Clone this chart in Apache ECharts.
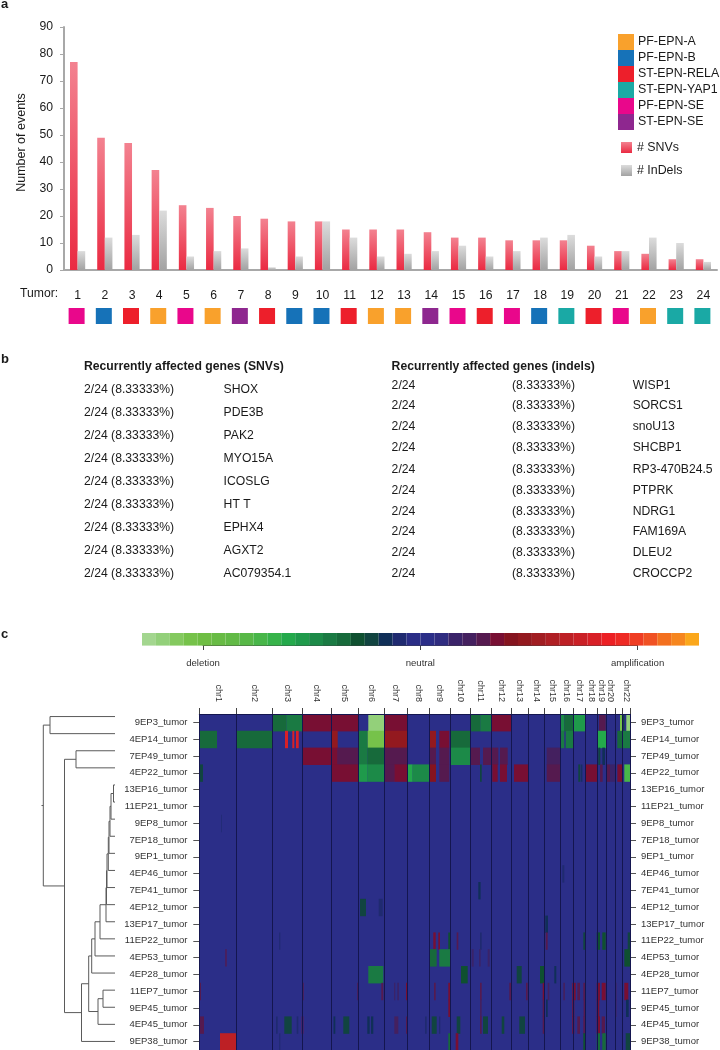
<!DOCTYPE html>
<html>
<head>
<meta charset="utf-8">
<title>Ependymoma mutations and copy number</title>
<script src="https://cdn.jsdelivr.net/npm/echarts@6/dist/echarts.min.js"></script>
<style>
  html, body { margin: 0; padding: 0; background: #fff; }
  #main { width: 720px; height: 1050px; }
</style>
</head>
<body>
<div id="main"></div>
<script>
// panel a
const tumors = ["1","2","3","4","5","6","7","8","9","10","11","12","13","14","15","16","17","18","19","20","21","22","23","24"];
const snvCounts = [77,49,47,37,24,23,20,19,18,18,15,15,15,14,12,12,11,11,11,9,7,6,4,4];
const indelCounts = [7,12,13,22,5,7,8,1,5,18,12,5,6,7,9,5,7,12,13,5,7,12,10,3];
const subtypes = ["PF-EPN-A","PF-EPN-B","ST-EPN-RELA","ST-EPN-YAP1","PF-EPN-SE","ST-EPN-SE"];
const subtypeColors = ["#f9a12c","#1672b8","#ed1f2b","#1aa9a5","#e9078b","#8e278f"];
// index into subtypes, one per tumor
const tumorSubtype = [4,1,2,0,4,0,5,2,1,1,2,0,0,5,4,2,4,1,3,2,4,0,3,3];

// panel b
const snvGenes = ["SHOX","PDE3B","PAK2","MYO15A","ICOSLG","HT T","EPHX4","AGXT2","AC079354.1"];
const indelGenes = ["WISP1","SORCS1","snoU13","SHCBP1","RP3-470B24.5","PTPRK","NDRG1","FAM169A","DLEU2","CROCCP2"];

// panel c
const colorbarColors = [
  "#a3d68f","#93d07a","#84c95f","#76c24a","#6fbe44","#68bb45","#62ba46","#58b847","#48b649","#37b34a",
  "#24a94b","#1f9a4b","#1c8a48","#1a7a43","#176a3b","#0f5030","#114440","#102f58","#1f2a70","#2a2d86",
  "#2b2e88","#2f2c80","#3a2369","#44205f","#551a4f","#780f33","#85141f","#93191f","#a11d22","#af1f24",
  "#bd2025","#ca2026","#d82027","#ec2024","#ee2a24","#ef3d23","#f05123","#f3701f","#f6861f","#fba71b"
];
const neutralLevel = 20;
const scaleLabels = ["deletion","neutral","amplification"];
const samples = ["9EP3_tumor","4EP14_tumor","7EP49_tumor","4EP22_tumor","13EP16_tumor","11EP21_tumor","9EP8_tumor","7EP18_tumor","9EP1_tumor","4EP46_tumor","7EP41_tumor","4EP12_tumor","13EP17_tumor","11EP22_tumor","4EP53_tumor","4EP28_tumor","11EP7_tumor","9EP45_tumor","4EP45_tumor","9EP38_tumor"];
const chromosomes = ["chr1","chr2","chr3","chr4","chr5","chr6","chr7","chr8","chr9","chr10","chr11","chr12","chr13","chr14","chr15","chr16","chr17","chr18","chr19","chr20","chr21","chr22"];
const chrBounds = [0,37.4,73.4,103.4,131.7,159,184.7,208.4,230,251,271.4,291.7,311.7,329,345,360.7,374,386,397.7,406.7,415.7,423,430.7];
const chrCenters = [18.7,55.4,88.4,117.5,145.3,171.8,196.5,219.2,240.5,261.2,281.5,301.7,320.3,337,352.8,367.3,380,391.8,402.2,411.2,419.3,426.8];

// [start, end, level] along the genome, level indexes colorbarColors, one list per sample
// anything not listed is neutral
const cnvSegments = [
  [[73.4,87,14],[87,103.4,13],[103.4,131.7,25],[131.7,159,25],[169,184.7,1],[184.7,208.4,25],[271.4,281,14],[281,291.7,13],[291.7,311.7,25],[360.7,365,12],[365,374,14],[374,386,11],[399.7,406.4,24],[420.7,423,3],[423,425,16],[427,430.7,1]],
  [[0,17.7,14],[37.4,73.4,14],[85.7,88.7,32],[93,95,32],[96.7,99.4,32],[131.7,138.4,27],[159,168.4,13],[168.4,184.7,3],[184.7,208.4,27],[230,236.7,27],[240,250,25],[251,271.4,14],[360.7,365,13],[366.4,374,13],[397.7,406.7,10],[418,423,14],[423,430.7,13]],
  [[103.4,131.7,25],[131.7,138.4,25],[138.4,159,24],[159,168.4,13],[168.4,184.7,14],[184.7,208.4,24],[230,236.7,24],[240,250,24],[251,271.4,12],[271.4,280.7,24],[283.7,291.7,24],[291.7,299,24],[300.7,308.4,24],[347.4,360.7,23],[399,401,16],[403,405.7,17]],
  [[0,3.7,16],[131.7,159,25],[159,168.4,11],[168.4,184.7,12],[184.7,195,24],[195,208.4,25],[208.4,213.4,10],[213.4,230,12],[230,236.7,26],[240,250,24],[280.7,282.4,16],[293,298.4,25],[300.7,307.7,25],[314.7,329,25],[347.4,360.7,24],[379,381,16],[382,383,17],[386.7,397.7,25],[400.7,403.4,24],[406.7,410.7,24],[410.7,415.7,22],[418,423,25],[425,430.7,8]],
  [],
  [],
  [[21.7,22.4,18]],
  [],
  [],
  [[363,365,18]],
  [[279,281.3,17]],
  [[160.7,166.7,16],[179.4,183.4,18]],
  [[346,348.7,17]],
  [[80,81,18],[234,236.4,25],[239,240.7,25],[249,250.7,15],[257.4,259,24],[280.7,282.4,18],[346.4,348.4,24],[384,386,16],[397.4,400.7,15],[403,406.4,15],[428.4,430.7,16]],
  [[26,27.4,24],[230.7,237.4,14],[240,250.7,13],[272.4,274.4,22],[279.7,281.4,22],[288.4,290.4,22],[425,430.7,15]],
  [[169,184,13],[261.7,268.4,15],[317.4,322.4,16],[340.7,345,15],[355,357,17]],
  [[0,1.7,24],[103,104.4,24],[158,159,24],[182,184,24],[194.7,196,22],[198,199.7,22],[206.7,208,25],[234.7,236.4,24],[249,251,25],[280.7,282.4,24],[310,311.7,24],[326.7,328.4,24],[343.4,345,25],[348.4,350,23],[364,365.7,23],[373,376.4,25],[378,380.7,24],[384,386,24],[397.4,400.7,25],[402.4,406.4,25],[415.7,417,24],[425,429,25]],
  [[249,251,25],[280.7,282.4,23],[343.4,345,24],[346.7,348.4,17],[373,375,25],[384.3,386,24],[397.4,400,25],[415.7,417,24],[426.7,429.4,17]],
  [[0,4.7,24],[76.7,78.4,18],[85,92.4,16],[97.4,99,18],[102.4,104,25],[134.2,136,17],[144,150,16],[168,170.4,17],[171.7,174,17],[195,199,23],[206.7,208,24],[225.7,227.4,18],[232.4,237.4,16],[239.7,241,18],[257.4,261,16],[280.7,282.4,24],[283.7,288.7,16],[302.4,305,16],[320,325.7,16],[343.4,345,24],[373,375,25],[378,380.7,24],[384,386,24],[397.4,400.7,25],[402.4,405.7,24]],
  [[20.7,37,30],[80,81,18],[249,250.7,14],[256.4,259,25],[384,386,15],[397.4,400.7,14],[403,406.4,14],[426.4,430.7,16]]
];

// hclust style merges: [childA, childB, height], negative = sample number, positive = earlier merge number
const dendroMerges = [
  [-5,-6,1.5],[1,-7,4],[2,-8,5],[3,-9,6],[4,-10,6.7],[5,-11,8],[6,-12,8.5],[7,-13,9],[8,-14,15],[9,-15,20],[10,-16,23.3],
  [-17,-18,12],[12,-19,17],[11,13,26.3],[14,-20,33.5],[-3,-4,39],[16,15,50.5],[-1,-2,65],[18,17,71.7]
];
const dendroMaxHeight = 115;
const rootStemHeight = 73.5;

// walk the merges, each node sits at the middle of its two children
const dendroNodes = [];
const dendroLines = dendroMerges.map(([a, b, h]) => {
  const child = (c) => (c < 0 ? { y: -c - 0.5, h: 0 } : dendroNodes[c - 1]);
  const ca = child(a);
  const cb = child(b);
  dendroNodes.push({ y: (ca.y + cb.y) / 2, h: h });
  return [ca.h, ca.y, h, cb.y, cb.h];
});
const rootNode = dendroNodes[dendroNodes.length - 1];
dendroLines.push([rootStemHeight, rootNode.y, rootNode.h, rootNode.y, rootNode.h]);

// [start, end, row, level]
const cnvData = [];
cnvSegments.forEach((list, row) => {
  list.forEach((s) => cnvData.push([s[0], s[1], row, s[2]]));
});
const colorbarData = colorbarColors.map((c, i) => [i, i + 1, 0, i]);

const renderSegment = (params, api) => {
  const p0 = api.coord([api.value(0), api.value(2)]);
  const p1 = api.coord([api.value(1), api.value(2)]);
  const h = api.size([0, 1])[1];
  return {
    type: "rect",
    // small overlap so no seam shows between neighbouring rows
    shape: { x: p0[0], y: p0[1] - h / 2, width: p1[0] - p0[0], height: h + 0.6 },
    style: { fill: colorbarColors[api.value(3)] },
  };
};

const renderMerge = (params, api) => {
  const pts = [
    api.coord([api.value(0), api.value(1)]),
    api.coord([api.value(2), api.value(1)]),
    api.coord([api.value(2), api.value(3)]),
    api.coord([api.value(4), api.value(3)]),
  ];
  return {
    type: "polyline",
    shape: { points: pts },
    style: { fill: null, stroke: "#5a5a5a", lineWidth: 1 },
  };
};

const font = "Liberation Sans";
const graphics = [];
// panel b text in the picture is squeezed sideways, so squeeze is the width factor
const addText = (x, y, text, size, weight, squeeze) => {
  graphics.push({
    type: "text",
    x: x,
    y: y,
    scaleX: squeeze || 1,
    style: { text: text, font: (weight || "normal") + " " + size + "px '" + font + "'", fill: "#1a1a1a", textVerticalAlign: "middle" },
  });
};
addText(1, 4, "a", 13, "bold");
addText(1, 359, "b", 13, "bold");
addText(1, 634, "c", 13, "bold");
addText(20, 294, "Tumor:", 12.2);
addText(84, 366, "Recurrently affected genes (SNVs)", 13.4, "bold", 0.91);
addText(391.6, 366, "Recurrently affected genes (indels)", 13.4, "bold", 0.91);
const snvRowY = [389,412,435,458,481,504,527,550,573];
const indelRowY = [385,405.7,426.3,447.3,469.7,490.3,511,531.7,552.3,573.3];
snvGenes.forEach((g, i) => {
  addText(84, snvRowY[i], "2/24 (8.33333%)", 13.4, null, 0.91);
  addText(223.6, snvRowY[i], g, 13.4, null, 0.91);
});
indelGenes.forEach((g, i) => {
  addText(391.6, indelRowY[i], "2/24", 13.4, null, 0.91);
  addText(512, indelRowY[i], "(8.33333%)", 13.4, null, 0.91);
  addText(632.7, indelRowY[i], g, 13.4, null, 0.91);
});

const hidden = { show: false };
const barGradient = (top, bottom) => new echarts.graphic.LinearGradient(0, 0, 0, 1, [
  { offset: 0, color: top },
  { offset: 1, color: bottom },
]);

const subtypeSeries = subtypes.map((name, s) => ({
  name: name,
  type: "scatter",
  xAxisIndex: 1,
  yAxisIndex: 1,
  symbol: "rect",
  symbolSize: 16,
  itemStyle: { color: subtypeColors[s], opacity: 1 },
  data: tumorSubtype.map((t, i) => (t === s ? [i, 0] : null)).filter(Boolean),
}));

const chart = echarts.init(document.getElementById("main"));
chart.setOption({
  animation: false,
  backgroundColor: "#fff",
  textStyle: { fontFamily: font },
  graphic: graphics,
  legend: [
    {
      data: subtypes,
      left: 618,
      top: 34,
      padding: 0,
      orient: "vertical",
      itemWidth: 16,
      itemHeight: 16,
      itemGap: 0,
      selectedMode: false,
      icon: "rect",
      textStyle: { fontSize: 12.4, color: "#1a1a1a", padding: [0, 0, 0, -1] },
    },
    {
      data: ["# SNVs", "# InDels"],
      left: 621,
      top: 141.5,
      padding: 0,
      orient: "vertical",
      itemWidth: 11,
      itemHeight: 11,
      itemGap: 11,
      selectedMode: false,
      icon: "rect",
      textStyle: { fontSize: 12.4, color: "#1a1a1a" },
    },
  ],
  grid: [
    { left: 64, top: 27, width: 653, height: 243 },
    { left: 63, top: 308, width: 653, height: 16 },
    { left: 142, top: 633, width: 557, height: 12 },
    { left: 203, top: 644, width: 434.6, height: 1 },
    { left: 199.3, top: 714, width: 430.7, height: 340, show: true, borderWidth: 0, backgroundColor: colorbarColors[neutralLevel] },
    { left: 0, top: 708, width: dendroMaxHeight, height: 349.4 },
  ],
  xAxis: [
    {
      gridIndex: 0,
      type: "category",
      data: tumors,
      axisLine: { lineStyle: { color: "#a8a8a8", width: 2 } },
      axisTick: { length: 3, lineStyle: { color: "#a8a8a8" } },
      axisLabel: { interval: 0, margin: 20, fontSize: 12.2, color: "#1a1a1a" },
    },
    { gridIndex: 1, type: "category", data: tumors, show: false },
    { gridIndex: 2, type: "value", min: 0, max: colorbarColors.length, show: false },
    {
      gridIndex: 3,
      type: "value",
      min: -1,
      max: 1,
      interval: 1,
      axisLine: { show: true, lineStyle: { color: "#444", width: 1 } },
      axisTick: { show: true, length: 5, lineStyle: { color: "#444" } },
      splitLine: hidden,
      axisLabel: { margin: 13, fontSize: 9.6, color: "#333", formatter: (v) => scaleLabels[v + 1] },
    },
    {
      gridIndex: 4,
      type: "value",
      position: "top",
      min: 0,
      max: 430.7,
      z: 5,
      axisLine: { show: true, lineStyle: { color: "#14164f", width: 1 } },
      axisTick: { show: true, length: 6, customValues: chrBounds, lineStyle: { color: "#444" } },
      splitLine: { show: true, lineStyle: { color: "#14164f", width: 1 } },
      axisLabel: {
        customValues: chrCenters,
        rotate: 90,
        margin: 12,
        fontSize: 9,
        color: "#333",
        showMinLabel: true,
        showMaxLabel: true,
        formatter: (v) => chromosomes[chrCenters.indexOf(v)],
      },
    },
    { gridIndex: 5, type: "value", min: 0, max: dendroMaxHeight, inverse: true, show: false },
  ],
  yAxis: [
    {
      gridIndex: 0,
      type: "value",
      min: 0,
      max: 90,
      interval: 10,
      name: "Number of events",
      nameLocation: "middle",
      nameGap: 36,
      nameTextStyle: { fontSize: 12.5, color: "#1a1a1a", padding: [0, 0, 0, 12] },
      axisLine: { show: true, lineStyle: { color: "#a8a8a8", width: 2 } },
      axisTick: { show: true, length: 4, lineStyle: { color: "#a8a8a8" } },
      splitLine: hidden,
      axisLabel: { margin: 11, fontSize: 12.2, color: "#1a1a1a" },
    },
    { gridIndex: 1, type: "category", data: ["subtype"], show: false },
    { gridIndex: 2, type: "category", data: ["scale"], show: false },
    { gridIndex: 3, type: "value", min: 0, max: 1, show: false },
    {
      gridIndex: 4,
      type: "category",
      data: samples,
      inverse: true,
      position: "left",
      axisLine: hidden,
      splitLine: hidden,
      axisTick: { show: true, alignWithLabel: true, length: 6, lineStyle: { color: "#555" } },
      axisLabel: { interval: 0, margin: 11.8, fontSize: 9.5, color: "#333" },
    },
    {
      gridIndex: 4,
      type: "category",
      data: samples,
      inverse: true,
      position: "right",
      axisLine: hidden,
      splitLine: hidden,
      axisTick: { show: true, alignWithLabel: true, length: 6, lineStyle: { color: "#555" } },
      axisLabel: { interval: 0, margin: 11, fontSize: 9.5, color: "#333" },
    },
    { gridIndex: 5, type: "value", min: 0, max: 20, inverse: true, show: false },
  ],
  series: [
    {
      name: "# SNVs",
      type: "bar",
      xAxisIndex: 0,
      yAxisIndex: 0,
      barWidth: 7.6,
      barGap: 0,
      itemStyle: { color: barGradient("#f38290", "#ea2a42") },
      data: snvCounts,
    },
    {
      name: "# InDels",
      type: "bar",
      xAxisIndex: 0,
      yAxisIndex: 0,
      barWidth: 7.6,
      barGap: 0,
      itemStyle: { color: barGradient("#dcdcdc", "#a2a2a2") },
      data: indelCounts,
    },
    ...subtypeSeries,
    {
      type: "custom",
      xAxisIndex: 2,
      yAxisIndex: 2,
      renderItem: renderSegment,
      encode: { x: [0, 1], y: 2 },
      data: colorbarData,
    },
    {
      type: "custom",
      xAxisIndex: 4,
      yAxisIndex: 4,
      renderItem: renderSegment,
      encode: { x: [0, 1], y: 2 },
      data: cnvData,
    },
    {
      type: "custom",
      xAxisIndex: 5,
      yAxisIndex: 6,
      renderItem: renderMerge,
      encode: { x: [0, 2, 4], y: [1, 3] },
      data: dendroLines,
    },
  ],
});
</script>
</body>
</html>
